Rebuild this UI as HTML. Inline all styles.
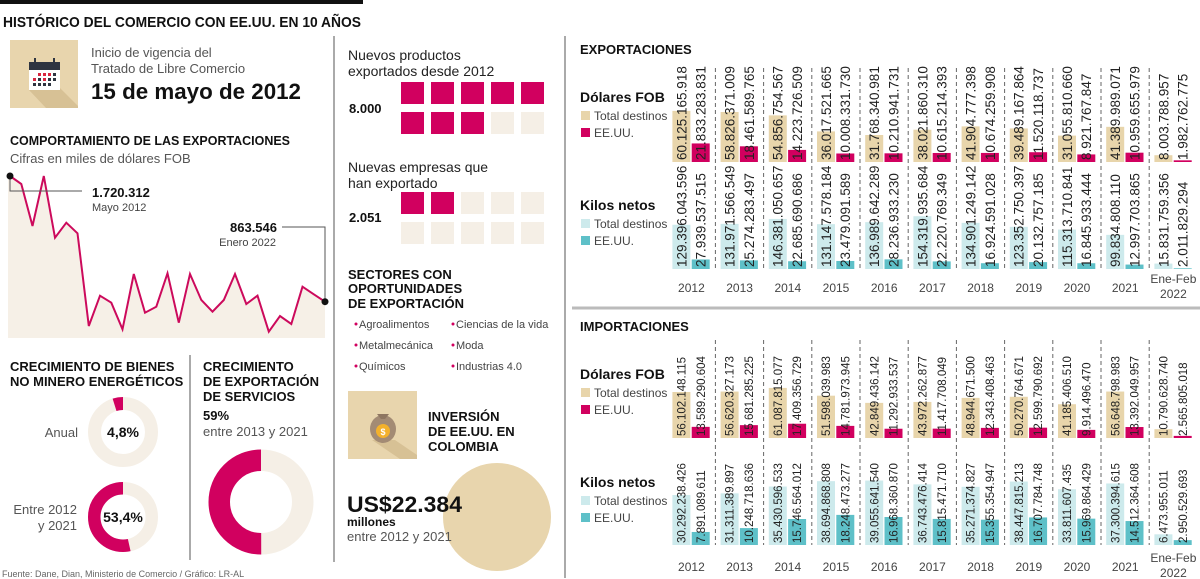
<!DOCTYPE html>
<html><head><meta charset="utf-8"><style>
html,body{margin:0;padding:0;background:#fff;}
svg{display:block;font-family:"Liberation Sans",sans-serif;}
.b{font-weight:bold;fill:#111;}
.n{font-family:"Liberation Sans Narrow","Liberation Sans",sans-serif;fill:#444;}
</style></head><body>
<svg id="root" width="1200" height="579" viewBox="0 0 1200 579" xmlns="http://www.w3.org/2000/svg">
<rect x="0" y="0" width="363" height="4" fill="#111"/>
<text x="3" y="27" class="b" font-size="15" textLength="358" lengthAdjust="spacingAndGlyphs">HISTÓRICO DEL COMERCIO CON EE.UU. EN 10 AÑOS</text>
<line x1="334" y1="36" x2="334" y2="562" stroke="#aaa" stroke-width="2"/>
<line x1="565" y1="36" x2="565" y2="578" stroke="#aaa" stroke-width="2"/>
<line x1="190" y1="355" x2="190" y2="560" stroke="#aaa" stroke-width="2"/>

<g>
<rect x="10" y="40" width="68" height="68" fill="#e8d5ad"/>
<polygon points="60,88 78,106 78,108 46,108 29,90" fill="#d7c195"/>
<rect x="29" y="62" width="31" height="8" fill="#2e3440"/>
<rect x="29" y="70" width="31" height="20" fill="#fff"/>
<rect x="34" y="58" width="2" height="6" fill="#2e3440"/><rect x="53" y="58" width="2" height="6" fill="#2e3440"/>
<g fill="#d9263f"><rect x="38" y="73" width="3" height="3"/><rect x="43" y="73" width="3" height="3"/><rect x="48" y="73" width="3" height="3"/><rect x="33" y="78" width="3" height="3"/><rect x="43" y="78" width="3" height="3"/></g>
<g fill="#2e3440"><rect x="53" y="73" width="3" height="3"/><rect x="38" y="78" width="3" height="3"/><rect x="48" y="78" width="3" height="3"/><rect x="53" y="78" width="3" height="3"/><rect x="33" y="83" width="3" height="3"/><rect x="38" y="83" width="3" height="3"/><rect x="43" y="83" width="3" height="3"/><rect x="48" y="83" width="3" height="3"/></g>
</g>
<text x="91" y="57" font-size="13" fill="#555">Inicio de vigencia del</text>
<text x="91" y="73" font-size="13" fill="#555">Tratado de Libre Comercio</text>
<text x="91" y="99" class="b" font-size="22" textLength="210" lengthAdjust="spacingAndGlyphs">15 de mayo de 2012</text>

<text x="10" y="145" class="b" font-size="13" textLength="280" lengthAdjust="spacingAndGlyphs">COMPORTAMIENTO DE LAS EXPORTACIONES</text>
<text x="10" y="163" font-size="13" fill="#555">Cifras en miles de dólares FOB</text>
<g id="lineChart"></g>

<text x="10" y="371" class="b" font-size="13">CRECIMIENTO DE BIENES</text>
<text x="10" y="386" class="b" font-size="13">NO MINERO ENERGÉTICOS</text>
<text x="78" y="437" text-anchor="end" font-size="13" fill="#555">Anual</text>
<text x="77" y="514" text-anchor="end" font-size="13" fill="#555">Entre 2012</text>
<text x="77" y="530" text-anchor="end" font-size="13" fill="#555">y 2021</text>
<text x="203" y="371" class="b" font-size="13">CRECIMIENTO</text>
<text x="203" y="386" class="b" font-size="13">DE EXPORTACIÓN</text>
<text x="203" y="401" class="b" font-size="13">DE SERVICIOS</text>
<text x="203" y="420" class="b" font-size="13">59%</text>
<text x="203" y="436" font-size="13" fill="#555">entre 2013 y 2021</text>
<g id="donuts"></g>
<text x="2" y="577" font-size="9" fill="#666">Fuente: Dane, Dian, Ministerio de Comercio / Gráfico: LR-AL</text>

<text x="348" y="60" font-size="14" fill="#222">Nuevos productos</text>
<text x="348" y="76" font-size="14" fill="#222">exportados desde 2012</text>
<text x="349" y="113" class="b" font-size="13">8.000</text>
<text x="348" y="172" font-size="14" fill="#222">Nuevas empresas que</text>
<text x="348" y="188" font-size="14" fill="#222">han exportado</text>
<text x="349" y="222" class="b" font-size="13">2.051</text>
<g id="waffles"></g>
<text x="348" y="279" class="b" font-size="13">SECTORES CON</text>
<text x="348" y="293" class="b" font-size="13">OPORTUNIDADES</text>
<text x="348" y="308" class="b" font-size="13">DE EXPORTACIÓN</text>
<g font-size="11" class="n">
<circle cx="356" cy="324" r="1.5" fill="#d1005f"/><text x="359" y="328" class="n">Agroalimentos</text>
<circle cx="453" cy="324" r="1.5" fill="#d1005f"/><text x="456" y="328" class="n">Ciencias de la vida</text>
<circle cx="356" cy="345" r="1.5" fill="#d1005f"/><text x="359" y="349" class="n">Metalmecánica</text>
<circle cx="453" cy="345" r="1.5" fill="#d1005f"/><text x="456" y="349" class="n">Moda</text>
<circle cx="356" cy="366" r="1.5" fill="#d1005f"/><text x="359" y="370" class="n">Químicos</text>
<circle cx="453" cy="366" r="1.5" fill="#d1005f"/><text x="456" y="370" class="n">Industrias 4.0</text>
</g>
<g>
<rect x="348" y="391" width="69" height="68" fill="#e8d5ad"/>
<polygon points="395,440 417,455 417,459 400,459 372,440" fill="#d7c195"/>
<ellipse cx="383" cy="429" rx="13" ry="14" fill="#a38b74"/>
<path d="M377 414 L389 414 L385 419 L381 419 Z" fill="#8e7661"/>
<circle cx="383" cy="431" r="7" fill="#f3b12c"/>
<text x="383" y="435" text-anchor="middle" font-size="9" fill="#fff" font-weight="bold">$</text>
</g>
<text x="428" y="421" class="b" font-size="13">INVERSIÓN</text>
<text x="428" y="436" class="b" font-size="13">DE EE.UU. EN</text>
<text x="428" y="451" class="b" font-size="13">COLOMBIA</text>
<circle cx="497" cy="517" r="54" fill="#e8d5ad"/>
<text x="347" y="512" class="b" font-size="22" textLength="115" lengthAdjust="spacingAndGlyphs">US$22.384</text>
<text x="347" y="526" class="b" font-size="12">millones</text>
<text x="347" y="541" font-size="13" fill="#555">entre 2012 y 2021</text>

<text x="580" y="54" class="b" font-size="13">EXPORTACIONES</text>
<text x="580" y="331" class="b" font-size="13">IMPORTACIONES</text>
<line x1="572" y1="308" x2="1200" y2="308" stroke="#bbb" stroke-width="3"/>
<g id="barCharts"></g>
</svg>
<script>
const NS="http://www.w3.org/2000/svg";
function mk(tag,attrs,parent){const e=document.createElementNS(NS,tag);for(const k in attrs)e.setAttribute(k,attrs[k]);parent.appendChild(e);return e;}

// ---- line chart data ----
const lineMonths=["May 2012","Jun","Jul","Ago","Sep","Oct","Nov","Dic","Ene","Feb","Mar","Abr","May","Jun","Jul","Ago","Sep","Oct","Nov","Dic","Ene","Feb","Mar","Abr","May","Jun","Jul","Ago","Ene 2022"];
const lineValues=[1720312,1665800,1379500,1720000,1299800,1402000,1329800,697900,904400,856700,675400,1052300,788600,829500,1057100,720400,1052300,875100,795400,875100,1052300,847900,904400,659100,766100,711500,965800,914000,863546];

// ---- donut data ----
const donutLabels=["Anual","Entre 2012 y 2021","Servicios"];
const donutValues=[4.8,53.4,50];

// ---- waffle data ----
const waffleNames=["productos","empresas"];
const waffleFilled=[8,2];

// ---- bar chart data ----
const barYears=["2012","2013","2014","2015","2016","2017","2018","2019","2020","2021","Ene-Feb|2022"];
const expFobTotal=[60125165918,58826371009,54856754567,36017521665,31768340981,38021860310,41904777398,39489167864,31055810660,41389989071,8003788957];
const expFobUS=[21833283831,18461589765,14223726509,10008331730,10210941731,10615214393,10674259908,11520118737,8921767847,10959655979,1982762775];
const expKgTotal=[129396043596,131971566549,146381050657,131147578184,136989642289,154319935684,134901249142,123352750397,115313710841,99834808110,15831759356];
const expKgUS=[27939537515,25274283497,22685690686,23479091589,28236933230,22220769349,16924591028,20132757185,16845933444,12997703865,2011829294];
const impFobTotal=[56102148115,56620327173,61087815077,51598039983,42849436142,43972262877,48944671500,50270764671,41185406510,56648798983,10790628740];
const impFobUS=[13589290604,15681285225,17409356729,14781973945,11292933537,11417708049,12343408463,12599790692,9914496470,13392049957,2565805018];
const impKgTotal=[30292238426,31311389897,35430596533,38694868808,39055641540,36743476414,35271374827,38447815213,33811607435,37300394615,6473955011];
const impKgUS=[7891089611,10248718636,15746564012,18248473277,16968360870,15815471710,15355354947,16707784748,15969864429,14512364608,2950529693];

function fmt(v){return String(Math.round(v)).replace(/\B(?=(\d{3})+(?!\d))/g,".");}

// line chart
(function(){
  const g=document.getElementById('lineChart');
  const x0=10,x1=325,base=338;
  const xs=i=>x0+i*(x1-x0)/(lineValues.length-1);
  const ys=v=>301.7-(v-863546)/6816;
  let pts=lineValues.map((v,i)=>xs(i).toFixed(1)+","+ys(v).toFixed(1));
  const area=mk('polygon',{points:"8,"+base+" 8,"+ys(lineValues[0]).toFixed(1)+" "+pts.join(" ")+" "+x1+","+base,fill:"#f6f0e7"},g);
  
  
  const line=mk('polyline',{points:pts.join(" "),fill:"none",stroke:"#cc0a5c","stroke-width":"2","stroke-linejoin":"miter"},g);
  
  
  const fx=xs(0),fy=ys(lineValues[0]),lx=xs(lineValues.length-1),ly=ys(lineValues[lineValues.length-1]);
  mk('polyline',{points:`${fx},${fy} ${fx},191 82,191`,fill:"none",stroke:"#555","stroke-width":"1"},g);
  mk('polyline',{points:`282,227 ${lx},227 ${lx},${ly}`,fill:"none",stroke:"#555","stroke-width":"1"},g);
  const d1=mk('circle',{cx:fx,cy:fy,r:3.5,fill:"#111"},g);
  
  
  const d2=mk('circle',{cx:lx,cy:ly,r:3.5,fill:"#111"},g);
  
  
  const t1=mk('text',{x:92,y:197,class:"b","font-size":"13"},g);t1.textContent=fmt(lineValues[0]);
  
  
  const t2=mk('text',{x:92,y:211,class:"n","font-size":"11"},g);t2.textContent=lineMonths[0].replace("May","Mayo");
  
  
  const t3=mk('text',{x:277,y:232,class:"b","font-size":"13","text-anchor":"end"},g);t3.textContent=fmt(lineValues[lineValues.length-1]);
  
  
  const t4=mk('text',{x:276,y:246,class:"n","font-size":"11","text-anchor":"end"},g);t4.textContent="Enero 2022";
  
  
})();

// donuts
(function(){
  const g=document.getElementById('donuts');
  const spec=[{cx:123,cy:432,r:28.5,w:13,lbl:"4,8%"},{cx:123,cy:517,r:28.75,w:12.5,lbl:"53,4%"},{cx:261,cy:502,r:41.75,w:21.5,lbl:null}];
  donutValues.forEach((v,i)=>{
    const s=spec[i],c=2*Math.PI*s.r;
    const bg=mk('circle',{cx:s.cx,cy:s.cy,r:s.r,fill:"none",stroke:"#f5efe6","stroke-width":s.w},g);
    
    
    const arc=mk('circle',{cx:s.cx,cy:s.cy,r:s.r,fill:"none",stroke:"#d1005f","stroke-width":s.w,
      "stroke-dasharray":(c*v/100).toFixed(2)+" "+c.toFixed(2),
      transform:`translate(${s.cx},${s.cy}) scale(-1,1) rotate(-90) translate(${-s.cx},${-s.cy})`},g);
    
    
    if(s.lbl){const t=mk('text',{x:s.cx,y:s.cy+5,class:"b","font-size":"14","text-anchor":"middle"},g);t.textContent=String(v).replace(".",",")+"%";
      
      }
  });
})();

// waffles
(function(){
  const g=document.getElementById('waffles');
  const tops=[82,192];
  waffleFilled.forEach((f,w)=>{
    for(let k=0;k<10;k++){
      const r=Math.floor(k/5),c=k%5;
      const sq=mk('rect',{x:401+c*30,y:tops[w]+r*30,width:23,height:22,fill:k<f?"#d1005f":"#f5efe6"},g);
      
      
    }
  });
})();

// bar charts
(function(){
  const g=document.getElementById('barCharts');
  const gx=i=>672.4+i*48.2;
  function panel(tot,us,base,scale,cTot,cUs,fs,name){
    tot.forEach((v,i)=>{
      const x=gx(i),h=v*scale,h2=us[i]*scale;
      const b1=mk('rect',{x:x,y:base-h,width:18,height:h,fill:cTot},g);
      
      
      const b2=mk('rect',{x:x+19.3,y:base-h2,width:18,height:h2,fill:cUs},g);
      
      
      [[v,x+9+fs*0.36],[us[i],x+28.3+fs*0.36]].forEach(([val,tx],j)=>{
        const t=mk('text',{x:tx,y:base-2,"font-size":fs,fill:"#222",transform:`rotate(-90 ${tx} ${base-2})`},g);
        t.textContent=fmt(val);
        
        
      });
    });
  }
  function seps(y1,y2){
    for(let i=0;i<10;i++){
      const l=mk('line',{x1:gx(i)+43,y1:y1,x2:gx(i)+43,y2:y2,stroke:"#666","stroke-width":"1","stroke-dasharray":"4,3"},g);
      
      
    }
  }
  function years(y){
    barYears.forEach((yr,i)=>{
      const parts=yr.split("|");
      parts.forEach((p,k)=>{
        const t=mk('text',{x:gx(i)+19,y:(parts.length>1?y-5+k*15:y+4),"text-anchor":"middle",class:"n","font-size":"12"},g);
        t.textContent=(k==0&&parts.length>1)?p:p;
        
        
      });
    });
  }
  function legend(y,title,c1,c2){
    const t=mk('text',{x:580,y:y+5,class:"b","font-size":"14"},g);t.textContent=title;
    
    
    [[c1,"Total destinos",y+19],[c2,"EE.UU.",y+36]].forEach(([c,l,yy])=>{
      const s=mk('rect',{x:581,y:yy-5,width:9,height:9,fill:c},g);
      
      
      const tt=mk('text',{x:594,y:yy+4,class:"n","font-size":"12"},g);tt.textContent=l;
      
      
    });
  }
  const BE="#e8d5ab",MA="#d1005f",LT="#cdeaec",TE="#5ec0c8";
  seps(68,270);
  panel(expFobTotal,expFobUS,162,0.85e-9,BE,MA,13.5,'exp-fob');
  panel(expKgTotal,expKgUS,269,0.342e-9,LT,TE,13.5,'exp-kg');
  years(288);
  legend(97,"Dólares FOB",BE,MA);
  legend(205,"Kilos netos",LT,TE);
  seps(340,545);
  panel(impFobTotal,impFobUS,438,0.82e-9,BE,MA,11.5,'imp-fob');
  panel(impKgTotal,impKgUS,545,1.65e-9,LT,TE,11.5,'imp-kg');
  years(567);
  legend(374,"Dólares FOB",BE,MA);
  legend(482,"Kilos netos",LT,TE);
})();
</script>
</body></html>
